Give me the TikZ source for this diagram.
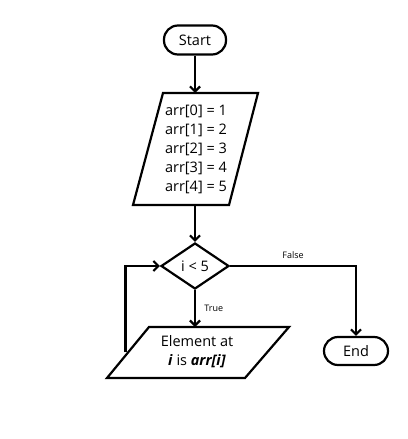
\documentclass[tikz,border=0pt]{standalone}
\usepackage{fontspec}
\setmainfont{Open Sans}
\usetikzlibrary{shapes.geometric,arrows.meta}

\begin{document}
\begin{tikzpicture}[x=1pt, y=-1pt, line width=2.2pt, line join=miter,
    >={Straight Barb[length=5pt,width=10pt]},
    term/.style={draw, rounded corners=14pt, minimum width=62pt, minimum height=29pt, inner sep=0pt, font=\fontsize{14.5}{17}\selectfont},
    txt/.style={align=center, inner sep=0pt, font=\fontsize{14.5}{19}\selectfont},
    small/.style={font=\fontsize{9}{11}\selectfont}]
    \useasboundingbox (0,0) rectangle (407,439);
    % start
    \node[term] (start) at (195,40) {Start};
    % input block
    \coordinate (A) at (163,93);
    \coordinate (B) at (258,93);
    \coordinate (C) at (229,205);
    \coordinate (D) at (133,205);
    \draw (A) -- (B) -- (C) -- (D) -- cycle;
    \node[txt] (init) at (196,149.5) {arr[0] = 1\\arr[1] = 2\\arr[2] = 3\\arr[3] = 4\\arr[4] = 5};
    \coordinate (initTop) at (195,93);
    \coordinate (initBot) at (195,205);
    % test
    \node[draw, diamond, minimum width=68pt, minimum height=46pt, inner sep=0pt, font=\fontsize{14.5}{17}\selectfont] (test) at (195,266) {i < 5};
    % loop body
    \coordinate (E) at (149,327);
    \coordinate (F) at (289,327);
    \coordinate (G) at (245,378);
    \coordinate (H) at (107,378);
    \draw (E) -- (F) -- (G) -- (H) -- cycle;
    \node[txt] (body) at (197,351.5) {Element at\\\textbf{\textit{i}} is \textbf{\textit{arr[i]}}};
    \coordinate (bodyTop) at (195,327);
    \coordinate (loop) at (125.5,352);
    % end
    \node[term, minimum width=64pt, minimum height=28pt] (finish) at (356,351) {End};
    % connectors
    \draw[->] (start) -- (initTop);
    \draw[->] (initBot) -- (test);
    \draw[->] (test) -- node[right, small, xshift=5pt] {True} (bodyTop);
    \draw[->] (test.east) -| node[pos=0.25, above=3pt, small] {False} (finish.north);
    \draw[->] (loop) |- (test.west);
\end{tikzpicture}
\end{document}
